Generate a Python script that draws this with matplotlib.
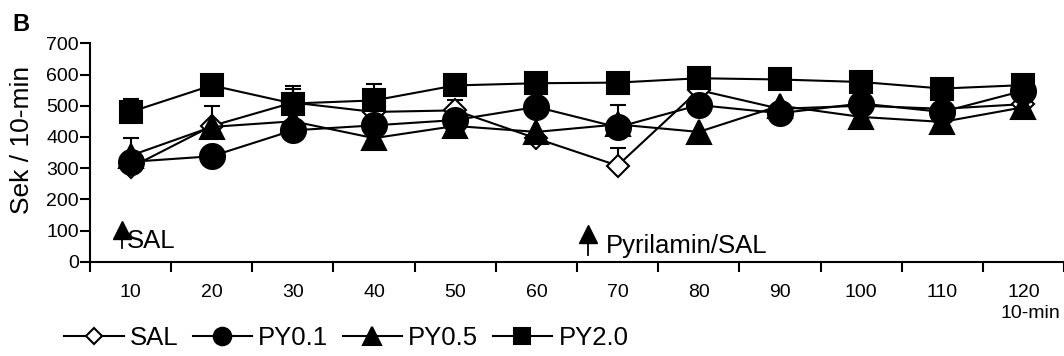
import numpy as np
import matplotlib
matplotlib.use("Agg")
import matplotlib.pyplot as plt

plt.rcParams['font.family'] = ['Liberation Sans', 'DejaVu Sans']

times = ['10', '20', '30', '40', '50', '60', '70', '80', '90', '100', '110', '120']

sal = [302, 435, 510, 480, 485, 395, 308, 550, 490, 500, 490, 505]
py01 = [320, 338, 421, 437, 454, 496, 431, 502, 476, 507, 480, 548]
py05 = [340, 432, 450, 396, 435, 416, 440, 416, 500, 464, 448, 495]
py20 = [480, 565, 507, 517, 565, 572, 574, 588, 584, 576, 555, 566]

# upper error bars (only the visible ones)
sal_err = [0, 0, 43, 0, 32, 0, 56, 0, 0, 0, 0, 0]
py01_err = [0, 0, 0, 0, 0, 0, 71, 0, 0, 0, 0, 0]
py05_err = [57, 66, 0, 0, 0, 0, 0, 0, 0, 0, 0, 0]
py20_err = [43, 0, 55, 52, 0, 0, 0, 0, 0, 0, 0, 0]

series = [
    ('SAL', sal, sal_err, dict(marker='D', markersize=11.5, markerfacecolor='white')),
    ('PY0.1', py01, py01_err, dict(marker='o', markersize=18, markerfacecolor='black')),
    ('PY0.5', py05, py05_err, dict(marker='^', markersize=17.5, markerfacecolor='black')),
    ('PY2.0', py20, py20_err, dict(marker='s', markersize=16.5, markerfacecolor='black')),
]

fig = plt.figure(figsize=(10.64, 3.56), dpi=100)
ax = fig.add_axes([90 / 1064, 1 - 261.7 / 356, (1064 - 90) / 1064, (261.7 - 43.3) / 356])

x = np.arange(len(times))
for name, vals, err, style in series:
    vals = np.array(vals, dtype=float)
    err = np.array(err, dtype=float)
    mask = err > 0
    ax.errorbar(x[mask], vals[mask], yerr=[np.zeros(mask.sum()), err[mask]],
                fmt='none', ecolor='black', elinewidth=1.5, capsize=6, capthick=1.5, zorder=2)
    ax.plot(x, vals, color='black', linewidth=1.5, markeredgecolor='black',
            markeredgewidth=1.5, label=name, zorder=3, **style)

# injection arrows
for xa, y_tip, y_base in [(-0.11, 101, 43), (5.63, 88, 21)]:
    ax.plot([xa, xa], [y_base, y_tip], color='black', linewidth=1.3, zorder=3)
    ax.plot([xa], [y_tip], marker='^', markersize=13, color='black', zorder=3)
ax.text(-0.05, 43, 'SAL', fontsize=18.5, va='baseline', ha='left')
ax.text(5.86, 29, 'Pyrilamin/SAL', fontsize=18.5, va='baseline', ha='left')

ax.set_xlim(-0.5, 11.48)
ax.set_ylim(0, 700)
ax.set_yticks(range(0, 701, 100))
ax.tick_params(axis='y', labelsize=14, length=7, width=1.5, direction='out', pad=1)

ax.set_xticks(np.arange(-0.5, 11.6, 1))
ax.set_xticklabels([])
ax.set_xticks(x, minor=True)
ax.set_xticklabels(times, minor=True)
ax.tick_params(axis='x', which='major', length=7, width=1.5, direction='out')
ax.tick_params(axis='x', which='minor', length=0, labelsize=14, pad=16)

for side in ['top', 'right']:
    ax.spines[side].set_visible(False)
for side in ['left', 'bottom']:
    ax.spines[side].set_linewidth(1.5)

fig.text(22 / 1064, 1 - 140 / 356, 'Sek / 10-min', rotation=90, fontsize=19,
         ha='center', va='center')
fig.text(12 / 1064, 1 - 13 / 356, 'B', fontsize=17, fontweight='bold', ha='left', va='top')
fig.text(1001 / 1064, 1 - 314 / 356, '10-min', fontsize=14, ha='left', va='center')

leg = fig.legend(loc='center left', bbox_to_anchor=(64 / 1064, 1 - 338 / 356), ncol=4,
                 frameon=False, fontsize=18.5, handlelength=2.32, handletextpad=0.24,
                 columnspacing=0.55, borderpad=0, borderaxespad=0, markerscale=0.7)

fig.savefig('out.png', dpi=100)
